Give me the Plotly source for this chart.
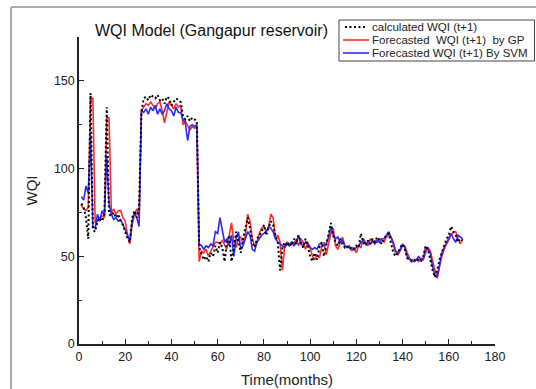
import plotly.graph_objects as go

months = list(range(1, 167))

calculated = [80, 78, 72, 60, 143, 65, 64, 70, 72, 70, 74, 135, 74, 73, 75, 72, 74, 70, 68, 64,
              60, 58, 72, 76, 72, 78, 132, 140, 141, 139, 142, 141, 140, 142, 139, 140, 137, 141, 140, 136,
              138, 140, 139, 138, 130, 128, 130, 127, 129, 128, 127, 55, 52, 48, 50, 47, 52, 50, 56, 52,
              58, 55, 47, 58, 62, 47, 55, 64, 58, 52, 60, 66, 72, 66, 58, 55, 60, 62, 64, 68,
              62, 66, 70, 68, 62, 58, 42, 55, 58, 56, 58, 56, 60, 57, 62, 58, 55, 60, 56, 50,
              47, 52, 48, 55, 58, 50, 56, 62, 69, 62, 58, 56, 60, 57, 55, 56, 54, 55, 54, 56,
              55, 63, 58, 56, 59, 57, 60, 58, 61, 59, 57, 60, 62, 63, 58, 52, 50, 52, 55, 57,
              54, 49, 48, 47, 48, 47, 49, 48, 50, 56, 54, 48, 42, 38, 42, 48, 52, 56, 60, 62,
              67, 64, 62, 58, 60, 59]

gp = [79, 77, 76, 78, 140, 140, 69, 70, 72, 73, 72, 129, 129, 75, 77, 74, 76, 76, 72, 70,
      62, 57, 68, 74, 77, 72, 133, 135, 137, 136, 138, 136, 134, 137, 138, 133, 126, 132, 138, 136,
      134, 137, 135, 136, 125, 127, 124, 122, 124, 123, 124, 47, 53, 52, 54, 50, 53, 56, 58, 58,
      57, 59, 56, 54, 62, 69, 58, 55, 60, 61, 57, 62, 74, 70, 60, 56, 58, 63, 66, 67,
      64, 66, 74, 72, 60, 62, 58, 42, 56, 58, 56, 58, 57, 60, 56, 60, 58, 54, 58, 55,
      50, 48, 51, 49, 55, 58, 51, 57, 63, 66, 56, 54, 58, 61, 56, 55, 56, 53, 55, 52,
      56, 55, 60, 58, 56, 60, 58, 59, 58, 60, 59, 58, 61, 62, 61, 56, 52, 51, 53, 56,
      56, 52, 49, 48, 47, 48, 47, 49, 48, 52, 55, 53, 47, 42, 38, 44, 50, 54, 57, 60,
      62, 64, 64, 60, 57, 60]

svm = [84, 82, 90, 86, 119, 67, 66, 74, 70, 76, 73, 107, 80, 74, 71, 72, 70, 71, 68, 65,
       63, 59, 70, 75, 72, 67, 133, 132, 134, 131, 135, 133, 136, 131, 134, 131, 133, 137, 134, 133,
       130, 135, 132, 132, 128, 126, 116, 124, 125, 124, 125, 57, 56, 54, 56, 55, 57, 56, 64, 63,
       72, 64, 58, 60, 56, 62, 50, 60, 64, 54, 56, 60, 64, 62, 54, 53, 58, 60, 62, 63,
       64, 67, 66, 64, 60, 58, 57, 56, 55, 57, 56, 58, 56, 58, 62, 57, 56, 58, 57, 55,
       54, 55, 54, 57, 57, 56, 57, 61, 67, 62, 60, 61, 58, 59, 56, 55, 55, 55, 54, 55,
       56, 58, 59, 57, 58, 57, 59, 57, 59, 58, 60, 60, 62, 64, 61, 58, 53, 52, 54, 57,
       55, 50, 48, 48, 47, 48, 50, 47, 49, 55, 54, 52, 44, 39, 38, 46, 52, 55, 58, 61,
       63, 60, 58, 62, 61, 60]

x_ticks = [0, 20, 40, 60, 80, 100, 120, 140, 160, 180]
y_ticks = [0, 50, 100, 150]

series_names = ["calculated WQI (t+1)", "Forecasted  WQI (t+1)  by GP", "Forecasted WQI (t+1) By SVM"]
series_colors = ["black", "#ff2a2a", "#2a2aff"]
dot_dash = "2px,2.5px"

fig = go.Figure()
fig.add_trace(go.Scatter(x=months, y=gp, mode="lines", name=series_names[1],
                         line=dict(color=series_colors[1], width=1.6)))
fig.add_trace(go.Scatter(x=months, y=svm, mode="lines", name=series_names[2],
                         line=dict(color=series_colors[2], width=1.6)))
fig.add_trace(go.Scatter(x=months, y=calculated, mode="lines", name=series_names[0],
                         line=dict(color=series_colors[0], width=2, dash=dot_dash)))

L, R, T, B = 79, 41, 37, 45
W, H = 536, 389
pw, ph = W - L - R, H - T - B

def px2paper_x(px):
    return (px - L) / pw

def py2paper_y(py):
    return (H - B - py) / ph

# hand-built legend box (compact rows like the original)
shapes = [
    dict(type="line", xref="paper", yref="paper", x0=px2paper_x(11), x1=px2paper_x(540),
         y0=py2paper_y(7), y1=py2paper_y(7), line=dict(color="#aaaaaa", width=2)),
    dict(type="line", xref="paper", yref="paper", x0=px2paper_x(11), x1=px2paper_x(11),
         y0=py2paper_y(7), y1=py2paper_y(392), line=dict(color="#aaaaaa", width=2)),
    dict(type="rect", xref="paper", yref="paper", x0=px2paper_x(339), x1=px2paper_x(534.5),
         y0=py2paper_y(61), y1=py2paper_y(20), line=dict(color="#444", width=1),
         fillcolor="white", layer="above"),
]
annotations = [dict(text="WQI Model (Gangapur reservoir)", xref="paper", yref="paper",
                    x=px2paper_x(211), y=py2paper_y(31), xanchor="center", yanchor="middle",
                    showarrow=False, font=dict(size=16, color="#111"))]
row_y = [27, 40, 53]
for i, (nm, col) in enumerate(zip(series_names, series_colors)):
    yy = py2paper_y(row_y[i])
    shapes.append(dict(type="line", xref="paper", yref="paper",
                       x0=px2paper_x(343 if i else 345), x1=px2paper_x(369 if i else 367),
                       y0=yy, y1=yy, layer="above",
                       line=dict(color=col, width=2 if i == 0 else 1.6,
                                 dash=dot_dash if i == 0 else "solid")))
    annotations.append(dict(text=nm, xref="paper", yref="paper", x=px2paper_x(370), y=yy,
                            xanchor="left", yanchor="middle", showarrow=False,
                            font=dict(size=11.5, color="#222")))

fig.update_layout(
    width=W, height=H,
    margin=dict(l=L, r=R, t=T, b=B, autoexpand=False),
    paper_bgcolor="white", plot_bgcolor="white",
    font=dict(family="Liberation Sans, Arial, sans-serif", color="#222", size=12.5),
    showlegend=False,
    xaxis=dict(range=[0, 180], tickvals=x_ticks, ticks="inside", ticklen=5, tickwidth=1.2,
               tickcolor="#222", showline=True, linecolor="#222", linewidth=1.5,
               showgrid=False, zeroline=False,
               minor=dict(dtick=10, ticks="inside", ticklen=3, tickcolor="#222", showgrid=False),
               title=dict(text="Time(months)", font=dict(size=15), standoff=12),
               tickfont=dict(size=12.5)),
    yaxis=dict(range=[0, 175], tickvals=y_ticks, ticks="inside", ticklen=5, tickwidth=1.2,
               tickcolor="#222", showline=True, linecolor="#222", linewidth=1.5,
               showgrid=False, zeroline=False,
               minor=dict(dtick=25, ticks="inside", ticklen=3, tickcolor="#222", showgrid=False),
               title=dict(text="WQI", font=dict(size=15), standoff=13),
               tickfont=dict(size=12.5)),
    annotations=annotations,
    shapes=shapes,
)

fig.write_html("out.html", config={"displayModeBar": False},
               post_script="document.body.style.margin='0';document.body.style.overflow='hidden';")
